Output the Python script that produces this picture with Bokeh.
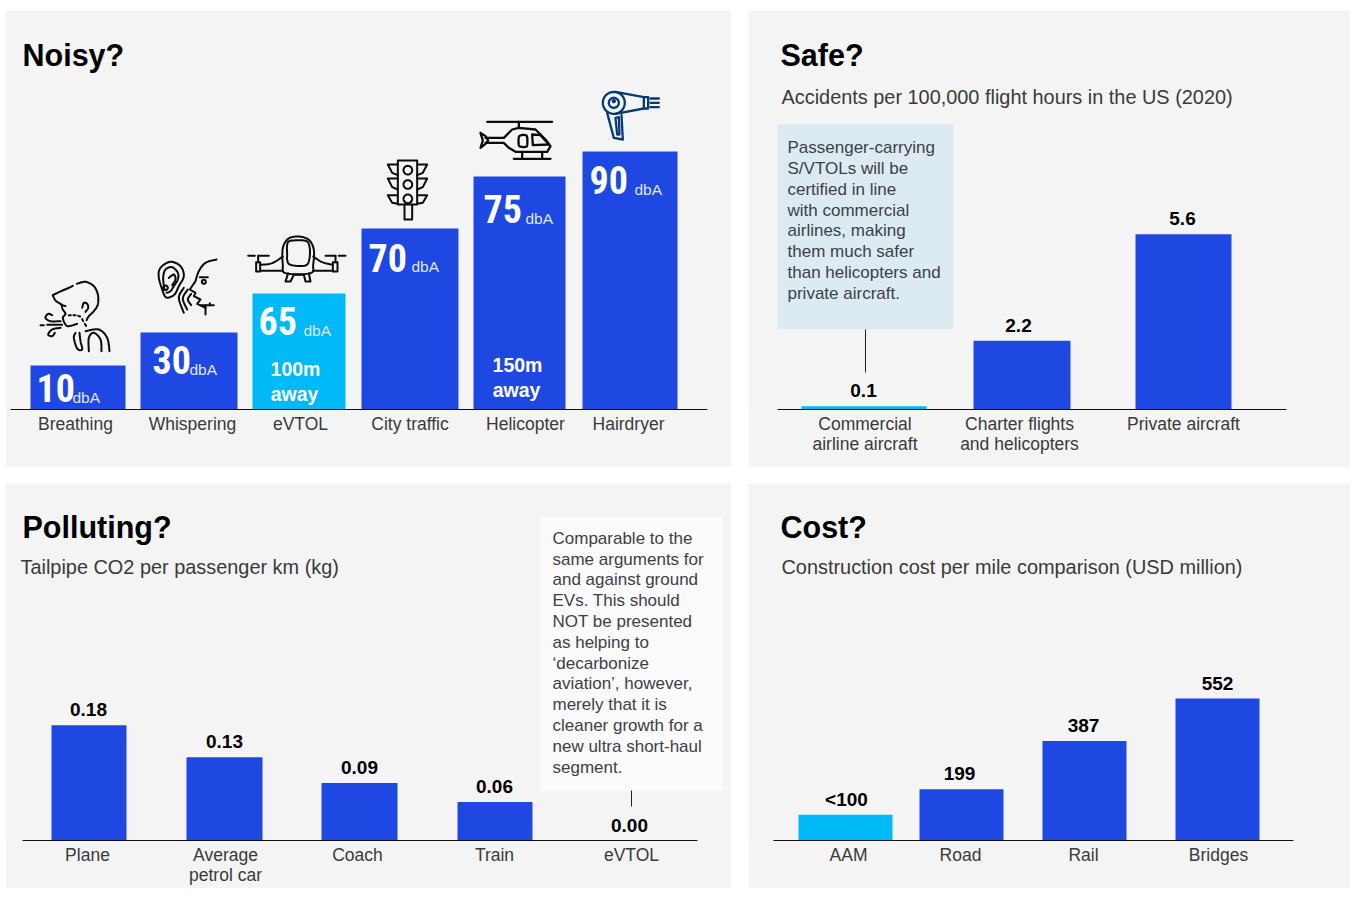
from bokeh.core.properties import value
from bokeh.embed import file_html
from bokeh.layouts import column, row
from bokeh.models import ColumnDataSource, FixedTicker, Range1d
from bokeh.plotting import figure
from bokeh.resources import INLINE
import numpy as np

# ---------- data ----------
noise_labels = ["Breathing", "Whispering", "eVTOL", "City traffic", "Helicopter", "Hairdryer"]
noise_dba = ["10", "30", "65", "70", "75", "90"]
# the source bars are pictorial, not proportional to dBA: heights as drawn
noise_bar_height = [44, 77, 116, 181, 233, 258]
safe_labels = ["Commercial\nairline aircraft", "Charter flights\nand helicopters", "Private aircraft"]
safe_values = [0.1, 2.2, 5.6]
safe_text = ["0.1", "2.2", "5.6"]
co2_labels = ["Plane", "Average\npetrol car", "Coach", "Train", "eVTOL"]
co2_values = [0.18, 0.13, 0.09, 0.06, 0.0]
co2_text = ["0.18", "0.13", "0.09", "0.06", "0.00"]
cost_labels = ["AAM", "Road", "Rail", "Bridges"]
cost_values = [100, 199, 387, 552]
cost_text = ["<100", "199", "387", "552"]

safe_note = ["Passenger-carrying", "S/VTOLs will be", "certified in line", "with commercial",
             "airlines, making", "them much safer", "than helicopters and", "private aircraft."]
co2_note = ["Comparable to the", "same arguments for", "and against ground", "EVs. This should",
            "NOT be presented", "as helping to", "\u2018decarbonize", "aviation\u2019, however,",
            "merely that it is", "cleaner growth for a", "new ultra short-haul", "segment."]

# ---------- look and placement ----------
BLUE, CYAN, PANEL = "#1f48e3", "#00b9f7", "#f4f4f4"
INK, BODY = "#000000", "#3a3a3a"
SANS, NARROW = "Liberation Sans", "Roboto Condensed"

noise_left, noise_right = [30, 140, 252, 361, 473, 582], [125, 237, 345, 458, 565, 677]
noise_tick = [75, 192, 300, 409.5, 525, 628]
noise_colors = [BLUE, BLUE, CYAN, BLUE, BLUE, BLUE]
big_x, big_y = [36, 152, 258, 368, 483, 589], [388, 360, 321, 258, 209, 180]
dba_x, dba_y = [72, 189, 303, 411, 525, 634], [398, 370, 331, 267, 219, 190]

safe_left, safe_right = [801, 973, 1135], [926, 1070, 1231]
safe_tick, safe_vx = [864.5, 1019, 1183], [863, 1018, 1182]
co2_left, co2_right = [51, 186, 321, 457, 596], [126, 262, 397, 532, 666]
co2_tick, co2_vx = [87, 225, 357, 494, 631], [88, 224, 359, 494, 629]
cost_left, cost_right = [798, 919, 1042, 1175], [892, 1003, 1126, 1259]
cost_tick, cost_vx = [848, 960, 1083, 1218], [846, 959, 1083, 1217]


def panel(x0, x1, top, height, base, ymax, axis_bounds, ticks, labels, margin):
    """A panel whose x data unit is one page pixel; "px" y range is page pixels too."""
    p = figure(width=x1 - x0, height=height, output_backend="svg", toolbar_location=None,
               x_range=Range1d(x0, x1), y_range=Range1d(0, ymax), y_axis_location=None,
               min_border_left=0, min_border_right=0, min_border_top=0,
               min_border_bottom=top + height - base, margin=margin)
    p.extra_y_ranges["px"] = Range1d(base, top)
    p.grid.visible = False
    p.outline_line_color = None
    p.background_fill_color = PANEL
    p.border_fill_color = PANEL
    ax = p.xaxis[0]
    ax.ticker = FixedTicker(ticks=ticks)
    ax.major_label_overrides = dict(zip(ticks, labels))
    ax.bounds = axis_bounds
    ax.axis_line_color = "#111111"
    ax.axis_line_width = 1.2
    ax.major_tick_line_color = None
    ax.minor_tick_line_color = None
    ax.major_tick_out = 0
    ax.major_tick_in = 0
    ax.major_label_standoff = 4
    ax.major_label_text_font = SANS
    ax.major_label_text_font_size = "17.5px"
    ax.major_label_text_color = BODY
    ax.major_label_text_line_height = 1.0
    return p


def bars(p, left, right, values, colors):
    src = ColumnDataSource(dict(left=left, right=right, top=values, c=colors, b=[0] * len(left)))
    p.quad(left="left", right="right", top="top", bottom="b", fill_color="c", line_color=None, source=src)


def txt(p, x, y, t, size, color=BODY, font=SANS, style="normal", align="left"):
    p.text(x=x, y=y, text=t, y_range_name="px", text_font=value(font), text_font_size=f"{size}px",
           text_font_style=style, text_color=color, text_align=align, text_baseline="middle")


def value_labels(p, x, values, labels, offsets=None):
    offsets = offsets or [-9] * len(labels)
    src = ColumnDataSource(dict(x=x, y=values, text=labels, off=offsets))
    p.text(x="x", y="y", text="text", y_offset="off", source=src, text_font=value(SANS), text_font_size="19px",
           text_font_style="bold", text_color=INK, text_align="center", text_baseline="bottom")


def note(p, x0, x1, y0, y1, fill, tx, ty, lines, lx, ly0, ly1):
    p.quad(left=[x0], right=[x1], top=[y0], bottom=[y1], y_range_name="px", fill_color=fill, line_color=None)
    p.segment(x0=[lx], x1=[lx], y0=[ly0], y1=[ly1], y_range_name="px", line_color="#222222", line_width=1)
    txt(p, [tx] * len(lines), ty, lines, 17, color="#3d4048")


# ---------- line icons ----------
def smooth(pts, closed=False, n=8):
    pts = [np.array(q, float) for q in pts]
    if closed:
        seq = [pts[-1]] + pts + pts[:2]
    else:
        seq = [pts[0]] + pts + [pts[-1]]
    out = []
    for i in range(1, len(seq) - 2):
        a, b, c, d = seq[i - 1], seq[i], seq[i + 1], seq[i + 2]
        for t in np.linspace(0, 1, n, endpoint=False):
            out.append(0.5 * (2 * b + (c - a) * t + (2 * a - 5 * b + 4 * c - d) * t ** 2
                              + (3 * b - a - 3 * c + d) * t ** 3))
    out.append(seq[-2])
    return [tuple(q) for q in out]


def ring(cx, cy, r, ry=None):
    ry = r if ry is None else ry
    a = np.linspace(0, 2 * np.pi, 33)
    return list(zip(cx + r * np.cos(a), cy + ry * np.sin(a)))


def icon(p, ox, oy, paths, color="#0b0b0b", width=2.0):
    xs = [[ox + q[0] / 3 for q in path] for path in paths]
    ys = [[oy + q[1] / 3 for q in path] for path in paths]
    p.multi_line(xs=xs, ys=ys, y_range_name="px", line_color=color, line_width=width,
                 line_cap="round", line_join="round")


BREATH = [
    smooth([(52, 62), (72, 52), (100, 40), (112, 34)]),
    smooth([(124, 28), (150, 22), (175, 35), (187, 60), (187, 90), (175, 110), (160, 125), (153, 137)]),
    smooth([(52, 62), (60, 78), (78, 90), (90, 95)]),
    smooth([(78, 90), (82, 105), (90, 118), (82, 130), (90, 150), (100, 155), (125, 148)]),
    smooth([(140, 100), (145, 85), (155, 88), (158, 100), (150, 112)]),
    [(100, 122), (106, 122)], [(114, 122), (120, 122)], [(128, 124), (134, 126)], [(140, 134), (143, 140)],
    [(148, 148), (152, 154)],
    smooth([(120, 175), (115, 190), (125, 222), (140, 225), (135, 200), (132, 175)]),
    smooth([(160, 230), (160, 190), (175, 175), (195, 195), (198, 230)]),
    smooth([(150, 170), (190, 165), (215, 190), (222, 230)]),
    smooth([(75, 140), (45, 140), (30, 130), (38, 118), (50, 122)]),
    smooth([(75, 160), (50, 165), (38, 180), (50, 185), (58, 175)]),
    [(15, 152), (25, 152)], [(35, 151), (80, 151)],
]
WHISPER = [
    smooth([(40, 120), (25, 70), (30, 40), (60, 22), (90, 35), (100, 65), (85, 95), (72, 120), (50, 130), (40, 120)]),
    smooth([(42, 105), (38, 70), (45, 45), (65, 38), (82, 55), (82, 75), (70, 95), (60, 110), (48, 115)]),
    smooth([(55, 70), (70, 60), (75, 75), (65, 92)]),
    ring(45, 100, 7),
    smooth([(198, 15), (165, 25), (145, 50), (135, 80)]) + [(118, 105), (135, 115), (130, 125), (150, 135), (140, 148), (165, 160)],
    [(150, 152), (190, 152)], [(165, 152), (165, 180)], [(178, 146), (178, 152)],
    ring(160, 82, 6), [(148, 68), (172, 68)],
    smooth([(100, 100), (85, 130), (100, 175)]),
    smooth([(112, 105), (97, 132), (110, 165)]),
    smooth([(122, 118), (112, 135), (122, 152)]),
]
DRONE = [
    smooth([(112, 100), (112, 50), (128, 22), (158, 15), (190, 25), (205, 55), (203, 100), (195, 125), (120, 125)], closed=True),
    smooth([(125, 70), (125, 40), (135, 28), (180, 28), (192, 45), (192, 80), (180, 102), (135, 100), (125, 85)], closed=True),
    [(8, 73), (28, 73)], [(38, 73), (70, 73)], [(240, 73), (270, 73)], [(280, 73), (300, 73)],
    [(32, 92), (44, 92), (44, 120), (32, 120), (32, 92)], [(262, 92), (276, 92), (276, 120), (262, 120), (262, 92)],
    [(38, 73), (38, 92)], [(270, 73), (270, 92)],
    smooth([(44, 100), (80, 95), (112, 75)]), [(44, 118), (112, 118)],
    smooth([(262, 100), (230, 92), (203, 75)]), [(262, 118), (203, 118)],
    [(128, 125), (120, 150), (135, 150), (145, 130), (175, 130), (180, 150), (195, 150), (190, 125)],
]
TRAFFIC = [
    [(52, 18), (110, 18), (110, 150), (52, 150), (52, 18)],
    [(72, 150), (72, 195), (95, 195), (95, 150)],
    ring(82, 47, 13), ring(82, 90, 13), ring(82, 133, 13),
    [(52, 30), (22, 30), (35, 55), (52, 62)], [(52, 72), (22, 72), (35, 98), (52, 105)], [(52, 122), (22, 122), (35, 145), (52, 148)],
    [(110, 30), (140, 30), (127, 55), (110, 62)], [(110, 72), (140, 72), (127, 98), (110, 105)], [(110, 122), (140, 122), (127, 145), (110, 148)],
]
HELI = [
    [(35, 22), (230, 22)], [(130, 22), (130, 40)],
    [(30, 70), (85, 70), (110, 45), (130, 40), (180, 45), (210, 75), (225, 95), (215, 112), (120, 112), (100, 100), (85, 85), (30, 85)],
    [(15, 55), (30, 65), (38, 78), (30, 88), (15, 100), (22, 78), (15, 55)],
    smooth([(130, 68), (138, 62), (150, 62), (155, 68), (155, 92), (150, 97), (138, 97), (130, 92)], closed=True),
    [(170, 60), (195, 62), (220, 90), (172, 92), (170, 60)],
    [(115, 133), (225, 133)], [(140, 113), (140, 133)], [(200, 113), (200, 133)],
]
DRYER = [
    ring(55, 55, 33), ring(55, 55, 15), ring(55, 50, 3),
    [(60, 22), (145, 38)], [(60, 88), (145, 72)],
    [(145, 38), (158, 38), (158, 72), (145, 72), (145, 38)],
    [(165, 42), (190, 42)], [(165, 55), (190, 55)], [(165, 68), (190, 68)],
    [(35, 85), (55, 160), (82, 165), (78, 92)],
    [(60, 100), (65, 150), (72, 150), (70, 98), (60, 100)],
]

# ---------- Noisy? ----------
p1 = panel(5, 731, 11, 457, 410, 399, (10, 707), noise_tick, noise_labels, (10, 0, 0, 5))
bars(p1, noise_left, noise_right, noise_bar_height, noise_colors)
txt(p1, [22], [55], ["Noisy?"], 30.5, INK, style="bold")
txt(p1, big_x, big_y, noise_dba, 38, "white", font=NARROW, style="bold")
txt(p1, dba_x, dba_y, ["dbA"] * 6, 15.5, "#dfe6fb")
txt(p1, [295, 294, 517, 516], [369, 394, 365, 390], ["100m", "away", "150m", "away"], 19.5, "white",
    style="bold", align="center")
icon(p1, 35, 275, BREATH)
icon(p1, 150, 255, WHISPER)
icon(p1, 245, 232, DRONE)
icon(p1, 380, 155, TRAFFIC)
icon(p1, 475, 115, HELI, width=2.3)
icon(p1, 595, 85, DRYER, color="#063a74", width=2.3)

# ---------- Safe? ----------
p2 = panel(748, 1350, 11, 457, 410, 399 / 31.3, (777, 1286), safe_tick, safe_labels, (10, 0, 0, 17))
bars(p2, safe_left, safe_right, safe_values, [CYAN, BLUE, BLUE])
value_labels(p2, safe_vx, safe_values, safe_text)
txt(p2, [780], [55], ["Safe?"], 30.5, INK, style="bold")
txt(p2, [781], [97], ["Accidents per 100,000 flight hours in the US (2020)"], 19.9, BODY)
note(p2, 777, 953, 125, 330, "#dcebf2", 787, [148, 169, 190, 211, 231, 252, 273, 294], safe_note, 865, 330, 373)

# ---------- Polluting? ----------
p3 = panel(5, 731, 484, 405, 841, 357 / 640, (22, 697), co2_tick, co2_labels, (16, 0, 0, 5))
bars(p3, co2_left, co2_right, co2_values, [BLUE] * 5)
value_labels(p3, co2_vx, co2_values, co2_text)
txt(p3, [22], [527], ["Polluting?"], 30.5, INK, style="bold")
txt(p3, [20], [567], ["Tailpipe CO2 per passenger km (kg)"], 19.9, BODY)
note(p3, 540, 722, 517, 791, "#fbfbfb", 552, [539, 560, 580, 601, 622, 643, 664, 684, 705, 726, 747, 768], co2_note, 631, 791, 807)

# ---------- Cost? ----------
p4 = panel(748, 1350, 484, 405, 841, 357 / 0.2572, (773, 1293), cost_tick, cost_labels, (16, 0, 0, 17))
bars(p4, cost_left, cost_right, cost_values, [CYAN, BLUE, BLUE, BLUE])
value_labels(p4, cost_vx, cost_values, cost_text, [-5, -9, -9, -9])
txt(p4, [780], [527], ["Cost?"], 30.5, INK, style="bold")
txt(p4, [781], [567], ["Construction cost per mile comparison (USD million)"], 19.9, BODY)

page = column(row(p1, p2), row(p3, p4))
open("out.html", "w").write(file_html(page, INLINE))
